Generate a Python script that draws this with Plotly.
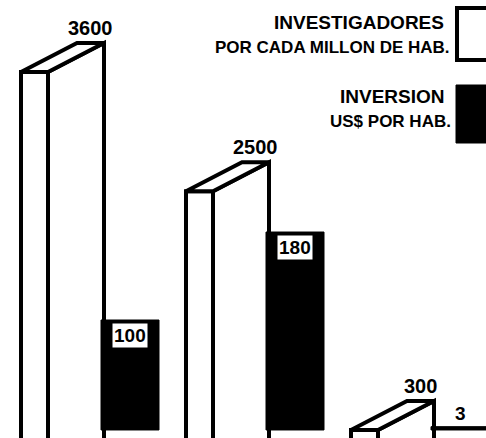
import plotly.graph_objects as go

# ---- data ----
categories = ["Grupo 1", "Grupo 2", "Grupo 3"]
investigadores = [3600, 2500, 300]      # por cada millón de hab.
inversion = [100, 180, 3]               # US$ por hab.
legend_inv_line1 = "INVESTIGADORES"
legend_inv_line2 = "POR CADA MILLON DE HAB."
legend_usd_line1 = "INVERSION"
legend_usd_line2 = "US$ POR HAB."

# ---- layout constants (styling / positions) ----
W, H = 486, 438
Y_RANGE = [226, 4264]      # white bars axis (baseline lies below the cropped bottom)
Y2_RANGE = [-7.3, 391]     # black bars axis
GROUP_START, GROUP_STEP = 21, 165
FRONT_W = 27               # narrow front face of white bar
DEPTH_X = 56               # oblique depth (x units)
DEPTH_PX = 29              # oblique depth in pixels
BLACK_OFF, BLACK_W = 80, 58
LW = 4
FONT = "Liberation Sans, Arial, sans-serif"

y_per_px = (Y_RANGE[1] - Y_RANGE[0]) / H
y2_per_px = (Y2_RANGE[1] - Y2_RANGE[0]) / H
depth_y = DEPTH_PX * y_per_px
group_x = [GROUP_START + GROUP_STEP * i for i in range(len(categories))]

fig = go.Figure()

# front faces of white bars
fig.add_trace(go.Bar(
    x=[gx + FRONT_W / 2 for gx in group_x], y=investigadores, base=0,
    width=FRONT_W, marker=dict(color="white", line=dict(color="black", width=LW)),
    name="INVESTIGADORES", hoverinfo="skip", yaxis="y"))

# side and top faces (oblique 3D effect) derived from the values
for gx, v in zip(group_x, investigadores):
    side_x = [gx + FRONT_W, gx + FRONT_W, gx + FRONT_W + DEPTH_X, gx + FRONT_W + DEPTH_X, gx + FRONT_W]
    side_y = [0, v, v + depth_y, 0, 0]
    fig.add_trace(go.Scatter(x=side_x, y=side_y, fill="toself", fillcolor="white",
                             mode="lines", line=dict(color="black", width=LW),
                             hoverinfo="skip", yaxis="y"))
    top_x = [gx, gx + FRONT_W, gx + FRONT_W + DEPTH_X, gx + DEPTH_X, gx]
    top_y = [v, v, v + depth_y, v + depth_y, v]
    fig.add_trace(go.Scatter(x=top_x, y=top_y, fill="toself", fillcolor="white",
                             mode="lines", line=dict(color="black", width=LW),
                             hoverinfo="skip", yaxis="y"))

# black bars (second axis)
fig.add_trace(go.Bar(
    x=[gx + BLACK_OFF + BLACK_W / 2 for gx in group_x], y=inversion, base=0,
    width=BLACK_W, marker=dict(color="black", line=dict(color="black", width=1)),
    name="INVERSION", hoverinfo="skip", yaxis="y2"))

annotations = []
# white bar value labels
for gx, v in zip(group_x, investigadores):
    annotations.append(dict(
        x=gx + FRONT_W / 2 + DEPTH_X, y=v + depth_y, xref="x", yref="y",
        text=f"<b>{v}</b>", showarrow=False, yanchor="middle", yshift=15,
        font=dict(family=FONT, size=20, color="black")))
# black bar value labels
for gx, v in zip(group_x, inversion):
    inside = v / y2_per_px > 30
    annotations.append(dict(
        x=gx + BLACK_OFF + BLACK_W / 2, y=v, xref="x", yref="y2",
        text=f"<b>{v}</b>", showarrow=False, yanchor="middle",
        yshift=-15 if inside else 13,
        bgcolor="white" if inside else "rgba(0,0,0,0)", borderpad=1,
        font=dict(family=FONT, size=19, color="black")))

# legend texts (paper coordinates)
def py(px):
    return 1 - px / H

annotations += [
    dict(x=446 / W, y=py(22.5), xref="paper", yref="paper", xanchor="right", yanchor="middle",
         text=f"<b>{legend_inv_line1}</b>", showarrow=False, font=dict(family=FONT, size=19, color="black")),
    dict(x=452 / W, y=py(47), xref="paper", yref="paper", xanchor="right", yanchor="middle",
         text=f"<b>{legend_inv_line2}</b>", showarrow=False, font=dict(family=FONT, size=17, color="black")),
    dict(x=447 / W, y=py(96), xref="paper", yref="paper", xanchor="right", yanchor="middle",
         text=f"<b>{legend_usd_line1}</b>", showarrow=False, font=dict(family=FONT, size=19, color="black")),
    dict(x=453 / W, y=py(121), xref="paper", yref="paper", xanchor="right", yanchor="middle",
         text=f"<b>{legend_usd_line2}</b>", showarrow=False, font=dict(family=FONT, size=17, color="black")),
]

shapes = [
    dict(type="rect", xref="paper", yref="paper", x0=457 / W, x1=495 / W, y0=py(60), y1=py(8),
         fillcolor="white", line=dict(color="black", width=LW)),
    dict(type="rect", xref="paper", yref="paper", x0=456 / W, x1=495 / W, y0=py(143), y1=py(85),
         fillcolor="black", line=dict(color="black", width=1)),
]

axis_off = dict(showgrid=False, zeroline=False, showticklabels=False, showline=False, ticks="")
fig.update_layout(
    width=W, height=H, margin=dict(l=0, r=0, t=0, b=0),
    paper_bgcolor="white", plot_bgcolor="white", showlegend=False,
    barmode="overlay",
    xaxis=dict(range=[0, W], **axis_off),
    yaxis=dict(range=Y_RANGE, **axis_off),
    yaxis2=dict(range=Y2_RANGE, overlaying="y", **axis_off),
    annotations=annotations, shapes=shapes,
)

fig.write_html("out.html", config={"displayModeBar": False},
               post_script="document.body.style.margin='0px';")
